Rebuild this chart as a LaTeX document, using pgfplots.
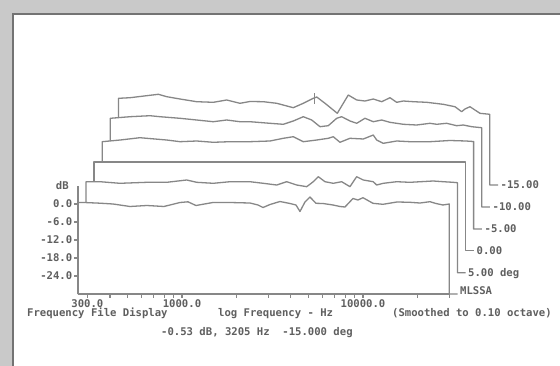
\documentclass[border=0pt]{standalone}
\usepackage{fontspec}
\setmainfont{DejaVu Sans Mono}[BoldFont={DejaVu Sans Mono Bold}]
\usepackage{pgfplots}
\usepackage{pgfplotstable}
\pgfplotsset{compat=1.18}
\definecolor{bgc}{RGB}{201,201,201}
\definecolor{edgec}{RGB}{115,115,115}
\definecolor{trc}{RGB}{135,135,135}
\definecolor{txtc}{RGB}{95,95,95}
\newcommand{\mf}{\fontsize{10.6bp}{13bp}\selectfont\bfseries}

% front trace (10 deg), own frame: dB
\pgfplotstableread{
f d
266 -30
266 0.5
288 0.5
352 0.27
416 0.0
516 -0.83
640 -0.5
795 -0.83
975 0.5
1079 0.73
1195 -0.5
1483 0.5
1841 0.5
2375 0.33
2630 -0.33
2803 -1.17
3064 -0.17
3478 0.83
3952 0.17
4264 -0.33
4487 -2.5
4781 0.67
5095 2.33
5500 0.23
6012 0.17
6829 -0.33
7463 -0.83
7954 -1.0
8805 1.83
9384 1.33
10000 2.1
11360 0.23
12900 -0.1
15410 0.67
18180 0.57
20650 0.33
23460 0.77
25310 0.17
27670 -0.33
30000 0.0
30000 -30
33300 -30
}\tA

% 5 deg
\pgfplotstableread{
f d
266 -29.9
266 0.43
318 0.43
410 -0.1
576 0.23
742 0.23
958 1.0
1088 0.23
1343 -0.1
1661 0.43
2142 0.43
2538 -0.1
3009 -0.67
3418 0.43
3882 -0.67
4409 -1.23
4794 0.43
5108 2.1
5565 0.43
6183 -0.1
6880 0.43
7647 -1.23
8324 2.1
9057 1.0
10280 0.43
10740 -0.67
11680 -0.1
13850 0.43
16400 0.23
22060 0.67
25050 0.43
28460 0.23
30000 0.1
30000 -29.9
33300 -29.9
}\tB

% 0 deg (reference)
\pgfplotstableread{
f d
266 -29.45
266 0
30000 0
30000 -29.45
33300 -29.45
}\tC

% -5 deg
\pgfplotstableread{
f d
266 -29.35
266 -0.23
334 0.33
430 1.1
469 0.9
604 0.33
716 -0.23
885 0.0
1093 -0.43
1352 -0.23
1743 -0.23
2248 0.0
2663 0.9
3025 1.43
3435 -0.23
4074 0.33
4721 0.9
5031 1.43
5479 -0.43
6222 0.9
7369 0.67
8368 2.0
8737 0.33
9504 -0.77
11270 0.0
13350 -0.23
17210 -0.23
22210 0.17
27220 0.0
30000 -0.17
30000 -29.35
33300 -29.35
}\tD

% -10 deg
\pgfplotstableread{
f d
266 -29
266 0.57
342 1.1
441 1.43
500 1.1
645 0.57
798 0.0
986 -0.57
1169 0.0
1385 -0.57
1573 -0.57
2029 -1.1
2403 -1.43
2729 -0.33
3099 1.1
3449 0.0
3832 -2.23
4259 -1.9
4740 0.57
5050 1.1
5615 -0.33
6114 -1.1
6792 0.57
7550 -0.57
8399 0.0
9336 -0.77
11060 -1.43
13110 -1.67
15540 -1.1
16920 -1.43
19200 -1.1
21820 -1.9
23720 -1.67
26400 -2.23
30000 -2.57
30000 -29
33300 -29
}\tE

% -15 deg
\pgfplotstableread{
f d
266 -28.65
266 0.23
308 0.43
381 1.1
442 1.57
492 0.77
582 0.0
720 -0.9
890 -1.1
1055 -0.33
1249 -1.43
1419 -0.83
1681 -0.9
1993 -1.43
2461 -2.9
2796 -1.43
3175 0.23
3315 0.67
3685 -1.43
4309 -4.77
4650 -1.43
4955 1.33
5514 -0.33
6129 -0.67
6810 0.0
7580 -0.9
8421 0.43
9172 -1.1
9975 -0.67
11330 -0.9
13430 -1.1
16590 -1.77
19250 -2.57
20970 -4.23
21870 -3.33
23310 -2.57
24830 -3.67
26470 -4.77
30000 -5.1
30000 -28.65
33300 -28.65
}\tF

\newcommand{\wtrace}[2]{\addplot[draw=trc, line width=1.3bp, line join=round, fill=white]
  table[x expr={\thisrow{f}*1.1086^#2}, y expr={\thisrow{d}+7*#2}] {#1};}

\begin{document}
\begin{tikzpicture}
\path[use as bounding box] (0bp,0bp) rectangle (560bp,366bp);
\fill[bgc] (0bp,0bp) rectangle (560bp,366bp);
\fill[white] (12bp,0bp) rectangle (560bp,353bp);
\draw[edgec, line width=2bp] (13bp,0bp) -- (13bp,352bp) -- (560bp,352bp);
\begin{axis}[
  at={(77.9bp,72bp)}, anchor=south west, scale only axis,
  width=371.4bp, height=108bp,
  xmode=log, xmin=266, xmax=30000, ymin=-30, ymax=6,
  clip=false, axis on top,
  axis x line=bottom, axis y line=left,
  axis line style={-, draw=trc, line width=1.3bp},
  tick align=outside, major tick length=3.5bp,
  xminorticks=false, yminorticks=false,
  tick style={draw=trc, line width=1.1bp},
  xtick={300,400,500,600,700,800,900,1000,2000,3000,4000,5000,6000,7000,8000,9000,10000,20000,30000},
  xticklabels={300.0,{},{},{},{},{},{},1000.0,{},{},{},{},{},{},{},{},10000.0,{},{}},
  ytick={-24,-18,-12,-6,0},
  yticklabels={-24.0,-18.0,-12.0,-6.0,0.0},
  extra y ticks={6}, extra y tick labels={dB},
  extra y tick style={major tick length=0pt, yticklabel style={xshift=-7bp}},
  tick label style={font=\mf, text=txtc},
  xticklabel style={inner sep=2bp},
  yticklabel style={inner sep=2bp},
]
\wtrace{\tF}{5}
\wtrace{\tE}{4}
\wtrace{\tD}{3}
\wtrace{\tC}{2}
\wtrace{\tB}{1}
\wtrace{\tA}{0}
\addplot[draw=trc, line width=1.1bp] coordinates {(5367,33.5) (5367,37)};
\end{axis}
\begin{scope}[every node/.style={font=\mf, text=txtc, inner sep=0pt, anchor=base west}]
\node at (460bp,71.1bp) {MLSSA};
\node at (468bp,89.4bp) {5.00 deg};
\node at (476.5bp,111.8bp) {0.00};
\node at (484.5bp,133.1bp) {-5.00};
\node at (492.5bp,155.1bp) {-10.00};
\node at (500.5bp,177.1bp) {-15.00};
\node at (27bp,49bp) {Frequency File Display};
\node at (218bp,49bp) {log Frequency - Hz};
\node at (392bp,49bp) {(Smoothed to 0.10 octave)};
\node at (161bp,30.4bp) {-0.53 dB, 3205 Hz~~-15.000 deg};
\end{scope}
\end{tikzpicture}
\end{document}
